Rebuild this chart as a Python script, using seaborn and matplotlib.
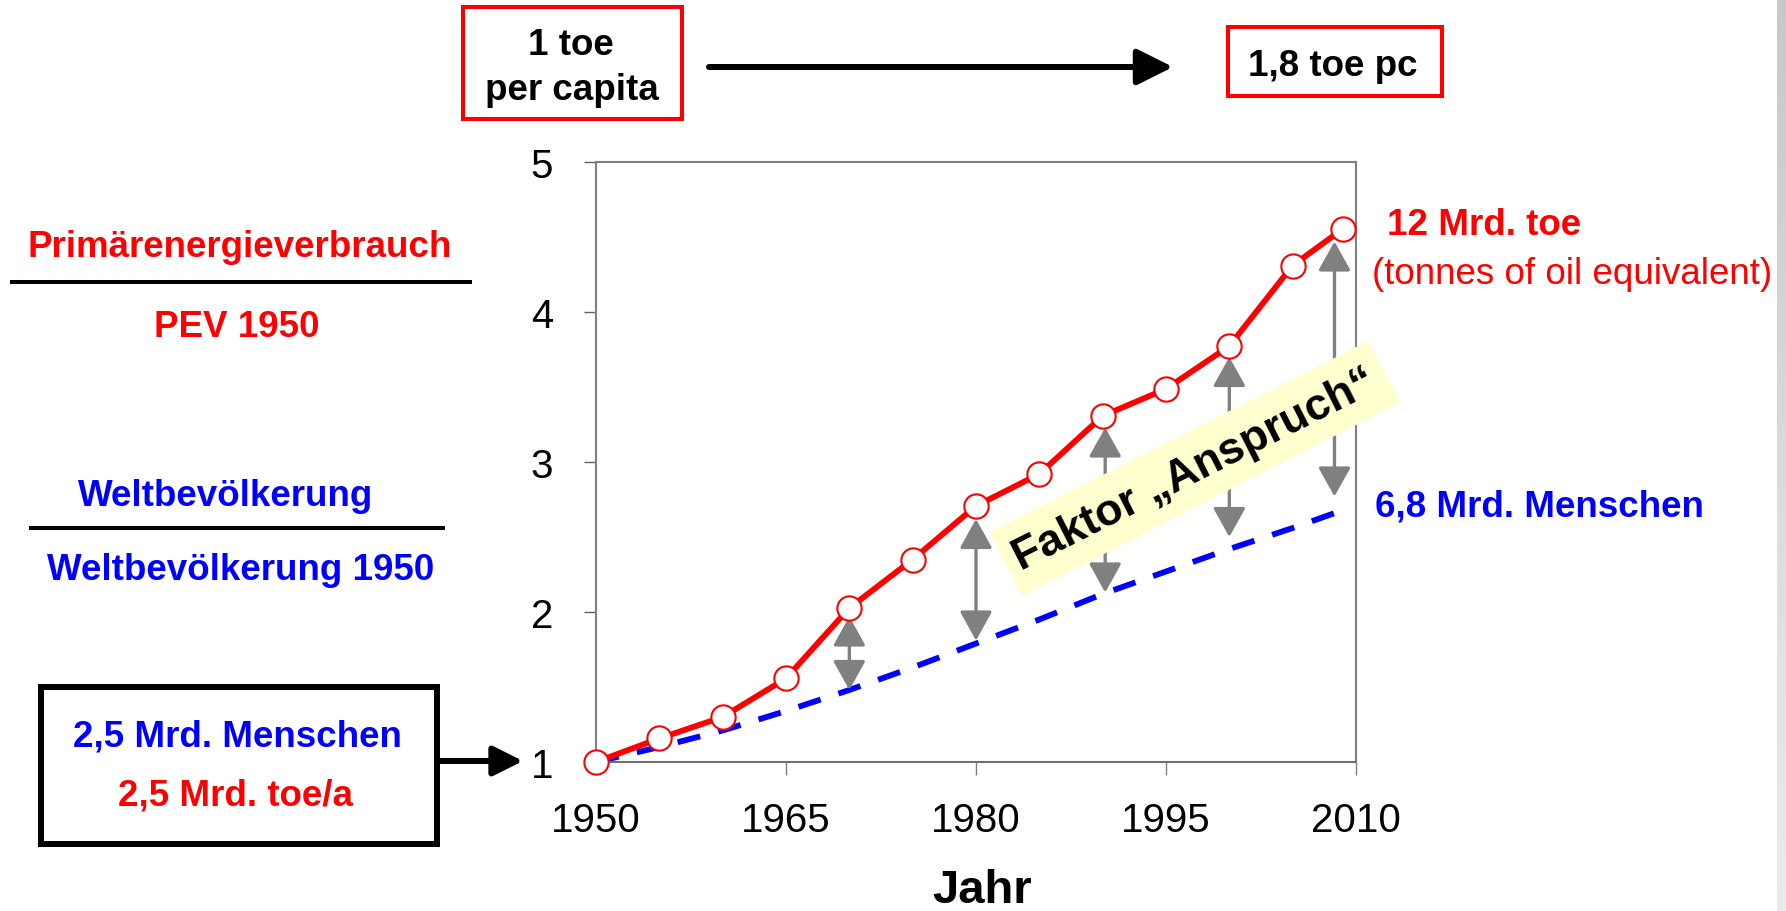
import matplotlib
matplotlib.use("Agg")
import matplotlib.pyplot as plt
import seaborn as sns
import numpy as np
from matplotlib.patches import Rectangle, Polygon

# ---------------- data ----------------
years = [1950, 1955, 1960, 1965, 1970, 1975, 1980, 1985, 1990, 1995, 2000, 2005, 2009]
pev_ratio = [1.0, 1.157, 1.30, 1.557, 2.026, 2.35, 2.707, 2.92, 3.307, 3.487, 3.773, 4.31, 4.556]
pop_ratio = [1.0, 1.10, 1.21, 1.34, 1.48, 1.63, 1.79, 1.95, 2.12, 2.27, 2.42, 2.56, 2.68]

gap_years = [1970, 1980, 1990.2, 2000, 2008.3]
gap_top = [1.97, 2.62, 3.23, 3.70, 4.47]
gap_bottom = [1.48, 1.81, 2.13, 2.50, 2.77]

x_ticks = [1950, 1965, 1980, 1995, 2010]
y_ticks = [1, 2, 3, 4, 5]

# ---------------- style ----------------
sns.set_style("white")
plt.rcParams["font.family"] = ["Liberation Sans", "DejaVu Sans"]
plt.rcParams["text.color"] = "black"
plt.rcParams["axes.labelcolor"] = "black"
plt.rcParams["xtick.color"] = "black"
plt.rcParams["ytick.color"] = "black"

W, H = 1786, 912
fig = plt.figure(figsize=(W / 100, H / 100), dpi=100)
fig.patch.set_facecolor("white")

ax_l, ax_r, ax_t, ax_b = 596, 1356, 163, 763
ax = fig.add_axes([ax_l / W, (H - ax_b) / H, (ax_r - ax_l) / W, (ax_b - ax_t) / H])

sns.lineplot(x=years, y=pop_ratio, ax=ax, color="#0000FF", linewidth=4.2,
             linestyle=(0, (4.0, 3.2)), clip_on=False, zorder=2)
sns.lineplot(x=years, y=pev_ratio, ax=ax, color="#FF0000", linewidth=4.2,
             marker="o", markersize=17.5, markerfacecolor="white",
             markeredgecolor="#FF0000", markeredgewidth=1.5,
             clip_on=False, zorder=4)
for ln in ax.lines:
    ln.set_solid_joinstyle("round")

for gx, gt, gb in zip(gap_years, gap_top, gap_bottom):
    ax.annotate("", xy=(gx, gt), xytext=(gx, gb), xycoords="data",
                arrowprops=dict(arrowstyle="<|-|>,head_length=18,head_width=10",
                                mutation_scale=1, color="#808080", lw=2.4,
                                shrinkA=0, shrinkB=0), zorder=3,
                annotation_clip=False)

ax.set_xlim(1950, 2010)
ax.set_ylim(1, 5)
ax.set_xticks(x_ticks)
ax.set_yticks(y_ticks)
ax.set_xticklabels([str(t) for t in x_ticks])
ax.set_yticklabels([str(t) for t in y_ticks])
ax.tick_params(axis="x", length=9, width=1, color="#808080", pad=19, labelsize=29,
               direction="out", bottom=True, labelcolor="black")
ax.tick_params(axis="y", length=9, width=1, color="#606060", pad=22, labelsize=29,
               direction="out", left=True, labelcolor="black")
for s in ax.spines.values():
    s.set_color("#808080")
    s.set_linewidth(1.5)
ax.spines["bottom"].set_color("#707070")
ax.set_xlabel("Jahr", fontsize=34, fontweight="bold", color="black")
ax.xaxis.label.set_va("baseline")
ax.xaxis.set_label_coords((982 - ax_l) / (ax_r - ax_l), -(903 - ax_b) / (ax_b - ax_t))
ax.set_ylabel("")

# ---------------- overlay (pixel coordinates) ----------------
ov = fig.add_axes([0, 0, 1, 1], zorder=5)
ov.set_xlim(0, W)
ov.set_ylim(H, 0)
ov.axis("off")
ov.patch.set_alpha(0)

FS = 26.5
RED, BLUE = "#FF0000", "#0000FF"

# top boxes and arrow
ov.add_patch(Rectangle((463, 8), 219, 112, fill=False, ec=RED, lw=2.9))
ov.text(571, 55, "1 toe", fontsize=FS, fontweight="bold", ha="center", va="baseline")
ov.text(572, 100, "per capita", fontsize=FS, fontweight="bold", ha="center", va="baseline")
ov.annotate("", xy=(1173, 68), xytext=(709, 68), xycoords="data",
            arrowprops=dict(arrowstyle="-|>,head_length=22,head_width=11",
                            mutation_scale=1, color="black", lw=4.3,
                            shrinkA=0, shrinkB=0))
ov.add_patch(Rectangle((1228, 28), 214, 69, fill=False, ec=RED, lw=2.9))
ov.text(1333, 76, "1,8 toe pc", fontsize=FS, fontweight="bold", ha="center", va="baseline")

# left fraction labels
ov.text(240, 257, "Primärenergieverbrauch", color=RED, fontsize=FS, fontweight="bold", ha="center", va="baseline")
ov.plot([10, 472], [283, 283], color="black", lw=2.9, solid_capstyle="butt")
ov.text(237, 337, "PEV 1950", color=RED, fontsize=FS, fontweight="bold", ha="center", va="baseline")
ov.text(226, 506, "Weltbevölkerung", color=BLUE, fontsize=FS, fontweight="bold", ha="center", va="baseline")
ov.plot([29, 445], [529, 529], color="black", lw=2.9, solid_capstyle="butt")
ov.text(241, 580, "Weltbevölkerung 1950", color=BLUE, fontsize=FS, fontweight="bold", ha="center", va="baseline")

# bottom-left box and arrow
ov.add_patch(Rectangle((41, 688), 396, 157, fill=False, ec="black", lw=4.3))
ov.text(237, 747, "2,5 Mrd. Menschen", color=BLUE, fontsize=FS, fontweight="bold", ha="center", va="baseline")
ov.text(236, 806, "2,5 Mrd. toe/a", color=RED, fontsize=FS, fontweight="bold", ha="center", va="baseline")
ov.annotate("", xy=(523, 762), xytext=(437, 762), xycoords="data",
            arrowprops=dict(arrowstyle="-|>,head_length=18,head_width=9",
                            mutation_scale=1, color="black", lw=4.3,
                            shrinkA=0, shrinkB=0))

# right labels
ov.text(1387, 235, "12 Mrd. toe", color=RED, fontsize=FS, fontweight="bold", ha="left", va="baseline")
ov.text(1372, 284, "(tonnes of oil equivalent)", color=RED, fontsize=FS, ha="left", va="baseline")
ov.text(1375, 517, "6,8 Mrd. Menschen", color=BLUE, fontsize=FS, fontweight="bold", ha="left", va="baseline")

# yellow rotated label
ov.add_patch(Polygon([(990, 533), (1368, 342), (1401, 403), (1022, 597)],
                     closed=True, fc="#FEFECE", ec="none"))
ov.text(1195, 470, "Faktor \u201eAnspruch\u201c", fontsize=32, fontweight="bold",
        ha="center", va="center", rotation=26.8, rotation_mode="anchor", color="black")

# slide shadow at right edge
grad = np.linspace(0.78, 0.92, 50).reshape(-1, 1)
ov.imshow(grad, cmap="gray", vmin=0, vmax=1, extent=[1777, 1786, 912, 0], aspect="auto")
ov.set_xlim(0, W)
ov.set_ylim(H, 0)

fig.savefig("out.png", dpi=100)
